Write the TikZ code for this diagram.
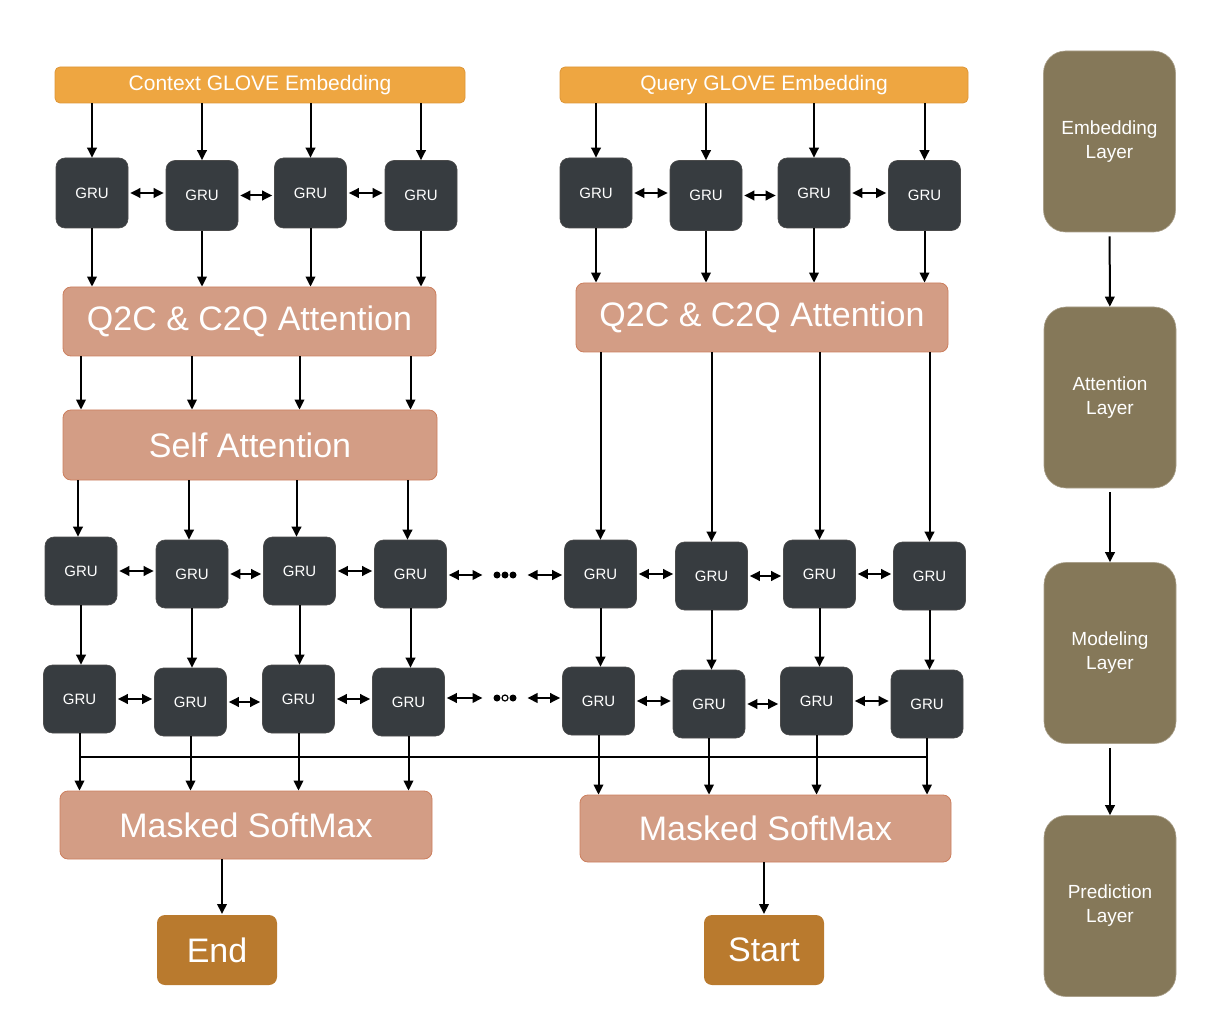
\documentclass[tikz,border=0pt]{standalone}
\usepackage{fontspec}
\setmainfont{Liberation Sans}
\usetikzlibrary{arrows.meta, calc, positioning}

\definecolor{gruGray}{HTML}{373C40}
\definecolor{embedOrange}{HTML}{EEA641}
\definecolor{embedLine}{HTML}{DD9638}
\definecolor{attSalmon}{HTML}{D39D85}
\definecolor{attLine}{HTML}{CC7F5E}
\definecolor{outBrown}{HTML}{B97A2E}
\definecolor{layerBrown}{HTML}{857859}

\begin{document}
\begin{tikzpicture}[x=1pt, y=-1pt, line width=2pt,% styles used in image code
         > = {Triangle[length=10pt, width=9.5pt]},
      gru/.style = {draw=gray!60!black, line width=0.6pt, fill=gruGray,
                    rounded corners=9pt, minimum width=72pt, minimum height=70pt,
                    inner sep=0pt, text=white, font=\fontsize{15}{18}\selectfont},
    embed/.style = {draw=embedLine, line width=0.8pt, fill=embedOrange,
                    rounded corners=5pt, minimum height=36pt, inner sep=0pt,
                    text=white, font=\fontsize{21}{24}\selectfont},
      att/.style = {draw=attLine, line width=0.8pt, fill=attSalmon,
                    rounded corners=8pt, inner sep=0pt,
                    text=white, font=\fontsize{34}{40}\selectfont},
   outbox/.style = {fill=outBrown, rounded corners=8pt, minimum width=120pt,
                    minimum height=70pt, inner sep=0pt,
                    text=white, font=\fontsize{34}{40}\selectfont},
    layer/.style = {draw=layerBrown!70!white, line width=0.6pt, fill=layerBrown,
                    rounded corners=22pt, minimum width=132pt, minimum height=181pt,
                    inner sep=0pt, align=center, text=white,
                    font=\fontsize{19}{24}\selectfont},
  dotsbox/.style = {minimum width=43pt, minimum height=8pt, inner sep=0pt},
                   ]
	\useasboundingbox (0,0) rectangle (1219,1032);

	% embedding bars
	\node[embed, minimum width=410pt] (ctx) at (260,85) {Context GLOVE Embedding};
	\node[embed, minimum width=408pt] (qry) at (764,85) {Query GLOVE Embedding};

	% contextual GRUs
	\foreach \n/\x/\y in {1/92/193, 2/202/195.5, 3/310.5/193, 4/421/195.5}
	  \node[gru] (ca\n) at (\x,\y) {GRU};
	\foreach \n/\x/\y in {1/596/193, 2/706/195.5, 3/814/193, 4/924.5/195.5}
	  \node[gru] (qa\n) at (\x,\y) {GRU};

	% attention blocks
	\node[att, minimum width=373pt, minimum height=69pt] (attC) at (249.5,321.5) {Q2C \& C2Q Attention};
	\node[att, minimum width=372pt, minimum height=69pt] (attQ) at (762,317.5) {Q2C \& C2Q Attention};
	\node[att, minimum width=374pt, minimum height=70pt] (selfC) at (250,445) {Self Attention};

	% modeling GRUs
	\foreach \n/\x/\y in {1/81/571, 2/192/574, 3/299.5/571, 4/410.5/574}
	  \node[gru, minimum height=68pt] (cb\n) at (\x,\y) {GRU};
	\foreach \n/\x/\y in {1/600.5/574, 2/711.5/576, 3/819.5/574, 4/929.5/576}
	  \node[gru, minimum height=68pt] (qb\n) at (\x,\y) {GRU};
	\foreach \n/\x/\y in {1/79.5/699, 2/190.5/702, 3/298.5/699, 4/408.5/702}
	  \node[gru, minimum height=68pt] (cc\n) at (\x,\y) {GRU};
	\foreach \n/\x/\y in {1/598.5/701, 2/709/704, 3/816.5/701, 4/927/704}
	  \node[gru, minimum height=68pt] (qc\n) at (\x,\y) {GRU};

	\node[dotsbox] (dotsB) at (505,575) {};
	\node[dotsbox] (dotsC) at (505,698) {};
	\fill (dotsB) ++(-8,0) circle (3.5pt) ++(8,0) circle (3.5pt) ++(8,0) circle (3.5pt);
	\fill (dotsC) ++(-8,0) circle (3.5pt) ++(16,0) circle (3.5pt);
	\draw[line width=1.2pt, fill=white] (dotsC) circle (3pt);

	% output
	\node[att, minimum width=372pt, minimum height=68pt] (smC) at (246,825) {Masked SoftMax};
	\node[att, minimum width=371pt, minimum height=67pt] (smQ) at (765.5,828.5) {Masked SoftMax};
	\node[outbox] (endN) at (217,950) {End};
	\node[outbox] (startN) at (764,950) {Start};

	% layer legend
	\node[layer] (lEmb) at (1109.5,141.5) {Embedding\\Layer};
	\node[layer] (lAtt) at (1110,397.5) {Attention\\Layer};
	\node[layer] (lMod) at (1110,653) {Modeling\\Layer};
	\node[layer] (lPred) at (1110,906) {Prediction\\Layer};

	% vertical connectors
	\foreach \n in {1,...,4} {
	  \draw[->] (ca\n |- ctx.south) -- (ca\n.north);
	  \draw[->] (qa\n |- qry.south) -- (qa\n.north);
	  \draw[->] (ca\n.south) -- (ca\n |- attC.north);
	  \draw[->] (qa\n.south) -- (qa\n |- attQ.north);
	  \draw[->] (cb\n |- attC.south) -- (cb\n |- selfC.north);
	  \draw[->] ([xshift=-3pt]cb\n.north |- selfC.south) -- ([xshift=-3pt]cb\n.north);
	  \draw[->] (qb\n |- attQ.south) -- (qb\n.north);
	  \draw[->] (cb\n.south) -- (cb\n |- cc\n.north);
	  \draw[->] (qb\n.south) -- (qb\n |- qc\n.north);
	  \draw[->] (cc\n.south) -- (cc\n |- smC.north);
	  \draw[->] (qc\n.south) -- (qc\n |- smQ.north);
	}

	% bidirectional links
	\foreach \r in {ca, qa, cb, qb, cc, qc}
	  \foreach \a/\b in {1/2, 2/3, 3/4}
	    \draw[<->, shorten <=2pt, shorten >=2pt] (\r\a.east) -- (\r\a.east -| \r\b.west);
	\draw[<->, shorten <=2pt] (cb4.east |- dotsB) -- (dotsB.west);
	\draw[<->, shorten >=2pt] (dotsB.east) -- (dotsB.east -| qb1.west);
	\draw[<->, shorten <=2pt] (cc4.east |- dotsC) -- (dotsC.west);
	\draw[<->, shorten >=2pt] (dotsC.east) -- (dotsC.east -| qc1.west);

	% shared line below the last GRUs
	\coordinate (bus) at (0,757);
	\draw (cc1 |- bus) -- (qc4 |- bus);

	\draw[->] ([xshift=5pt]endN.north |- smC.south) -- ([xshift=5pt]endN.north);
	\draw[->] (startN |- smQ.south) -- (startN.north);

	\draw[->, shorten <=4pt] (lEmb) -- (lAtt);
	\draw[->, shorten <=4pt] (lAtt) -- (lMod);
	\draw[->, shorten <=4pt] (lMod) -- (lPred);
\end{tikzpicture}
\end{document}
